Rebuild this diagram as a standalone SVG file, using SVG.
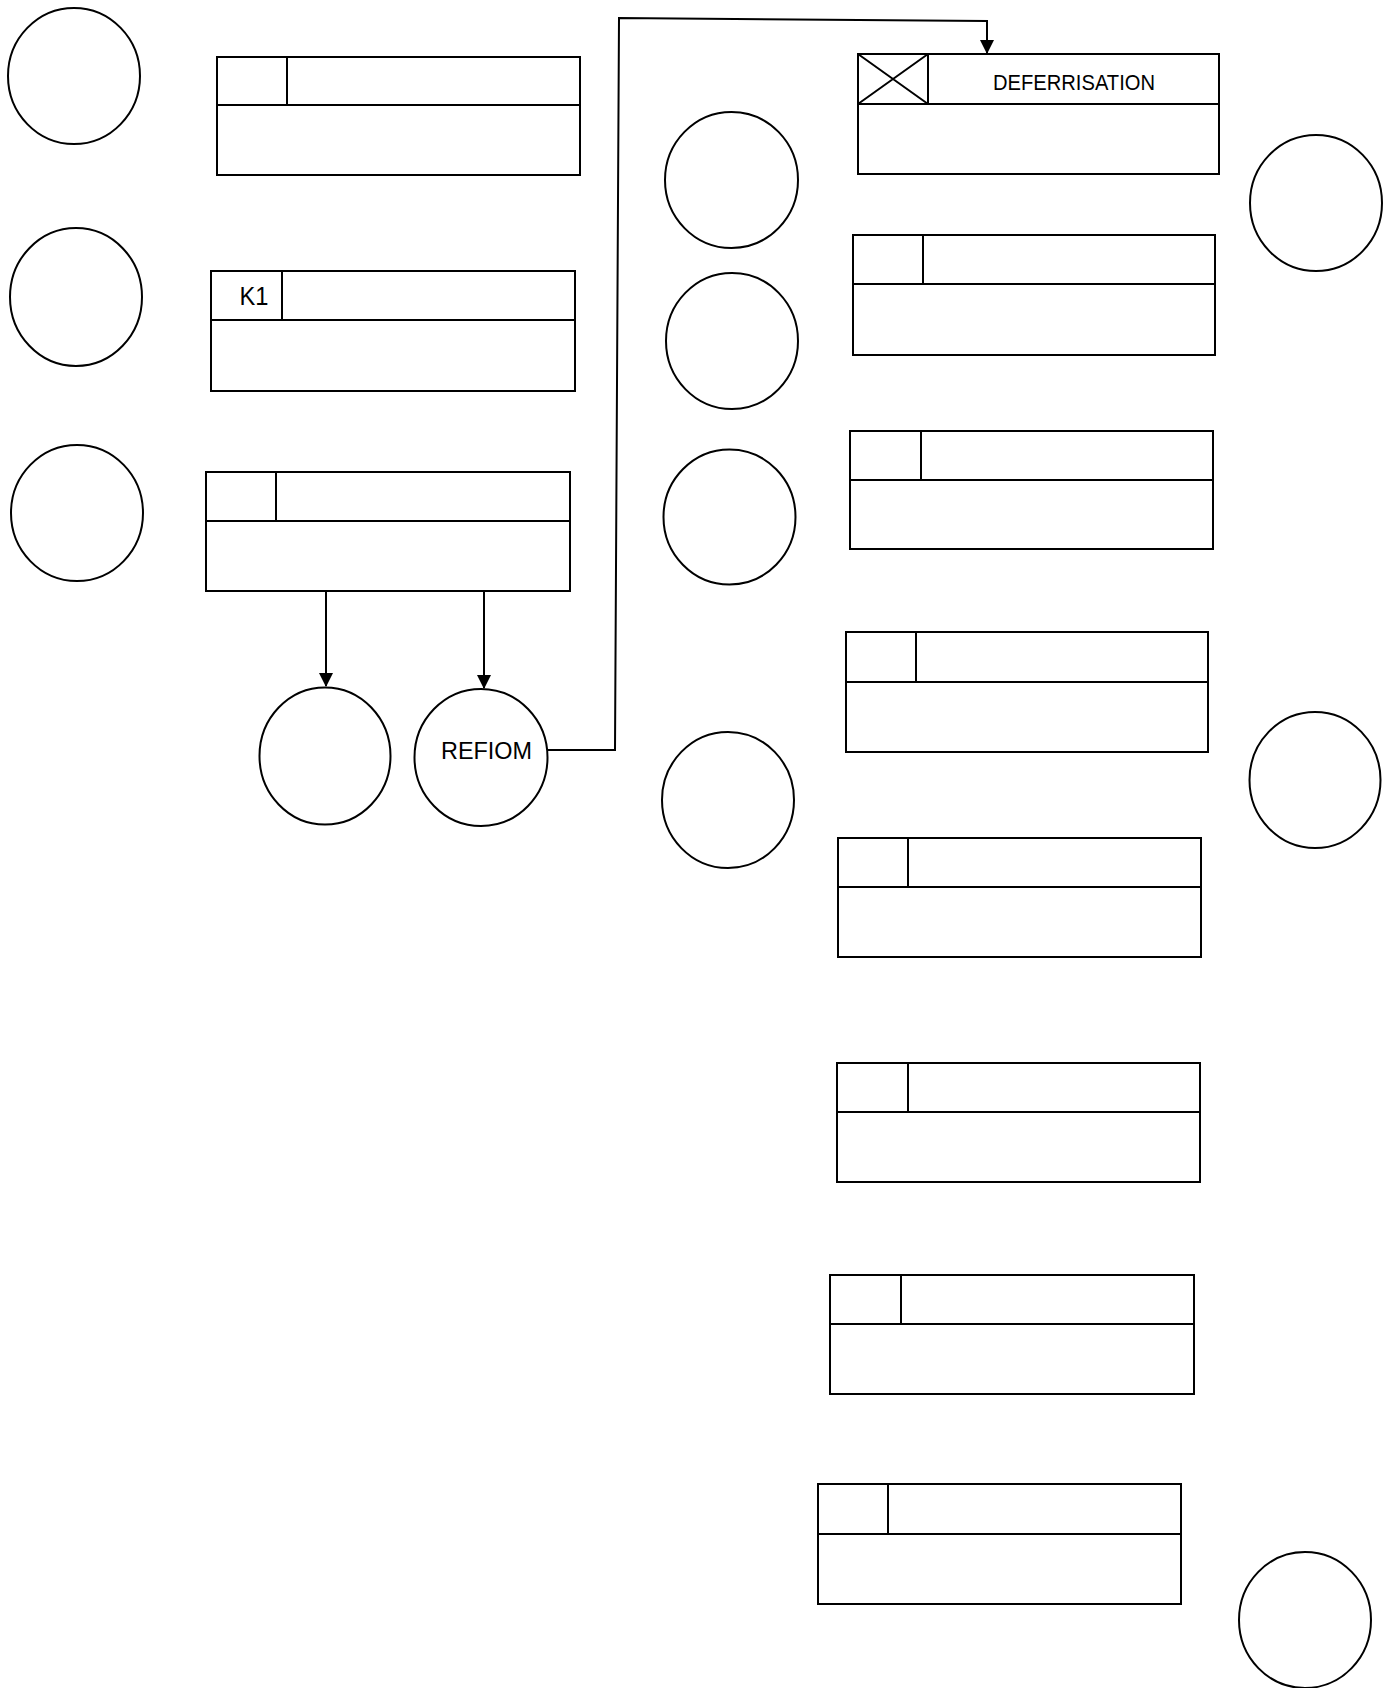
<svg xmlns="http://www.w3.org/2000/svg" width="1396" height="1688" viewBox="0 0 1396 1688">
<style>
.s{fill:none;stroke:#000;stroke-width:2}
.c{fill:#fff;stroke:#000;stroke-width:2}
.t{font-family:"Liberation Sans",Arial,sans-serif;fill:#000;text-anchor:middle}
</style>
<defs>
<marker id="ah" markerUnits="userSpaceOnUse" markerWidth="14" markerHeight="14" refX="13" refY="7" orient="auto">
<path d="M0,0 L14,7 L0,14 z" fill="#000"/>
</marker>
</defs>
<rect width="1396" height="1688" fill="#fff"/>
<g id="connectors">
<path class="s" d="M326,591 V686" marker-end="url(#ah)"/>
<path class="s" d="M484,591 V688" marker-end="url(#ah)"/>
<path class="s" d="M547,750 H615 L619,18 L987,21 V53" marker-end="url(#ah)"/>
</g>
<g id="circle1"><ellipse class="c" cx="74" cy="76" rx="66" ry="68"/></g>
<g id="circle2"><ellipse class="c" cx="76" cy="297" rx="66" ry="69"/></g>
<g id="circle3"><ellipse class="c" cx="77" cy="513" rx="66" ry="68"/></g>
<g id="circle4"><ellipse class="c" cx="325" cy="756" rx="65.5" ry="68.5"/></g>
<g id="refiom"><ellipse class="c" cx="481" cy="757.5" rx="66.5" ry="68.5"/><text class="t" x="486.5" y="759" font-size="24.5" textLength="91" lengthAdjust="spacingAndGlyphs">REFIOM</text></g>
<g id="circleA"><ellipse class="c" cx="731.5" cy="180" rx="66.5" ry="68"/></g>
<g id="circleB"><ellipse class="c" cx="732" cy="341" rx="66" ry="68"/></g>
<g id="circleC"><ellipse class="c" cx="729.5" cy="517" rx="66" ry="67.5"/></g>
<g id="circleD"><ellipse class="c" cx="728" cy="800" rx="66" ry="68"/></g>
<g id="circleR1"><ellipse class="c" cx="1316" cy="203" rx="66" ry="68"/></g>
<g id="circleR2"><ellipse class="c" cx="1315" cy="780" rx="65.5" ry="68"/></g>
<g id="circleR3"><ellipse class="c" cx="1305" cy="1620" rx="66" ry="68"/></g>
<g id="box1"><rect class="s" x="217" y="57" width="363" height="118"/><path class="s" d="M217,105 H580 M287,57 V105"/></g>
<g id="boxK1"><rect class="s" x="211" y="271" width="364" height="120"/><path class="s" d="M211,320 H575 M282,271 V320"/><text class="t" x="254" y="305" font-size="26" textLength="29" lengthAdjust="spacingAndGlyphs">K1</text></g>
<g id="box3"><rect class="s" x="206" y="472" width="364" height="119"/><path class="s" d="M206,521 H570 M276,472 V521"/></g>
<g id="deferrisation"><rect class="s" x="858" y="54" width="361" height="120"/><path class="s" d="M858,104 H1219 M928,54 V104 M858,54 L928,104 M858,104 L928,54"/><text class="t" x="1074" y="89.5" font-size="22" textLength="162" lengthAdjust="spacingAndGlyphs">DEFERRISATION</text></g>
<g id="boxR2"><rect class="s" x="853" y="235" width="362" height="120"/><path class="s" d="M853,284 H1215 M923,235 V284"/></g>
<g id="boxR3"><rect class="s" x="850" y="431" width="363" height="118"/><path class="s" d="M850,480 H1213 M921,431 V480"/></g>
<g id="boxR4"><rect class="s" x="846" y="632" width="362" height="120"/><path class="s" d="M846,682 H1208 M916,632 V682"/></g>
<g id="boxR5"><rect class="s" x="838" y="838" width="363" height="119"/><path class="s" d="M838,887 H1201 M908,838 V887"/></g>
<g id="boxR6"><rect class="s" x="837" y="1063" width="363" height="119"/><path class="s" d="M837,1112 H1200 M908,1063 V1112"/></g>
<g id="boxR7"><rect class="s" x="830" y="1275" width="364" height="119"/><path class="s" d="M830,1324 H1194 M901,1275 V1324"/></g>
<g id="boxR8"><rect class="s" x="818" y="1484" width="363" height="120"/><path class="s" d="M818,1534 H1181 M888,1484 V1534"/></g>
</svg>
